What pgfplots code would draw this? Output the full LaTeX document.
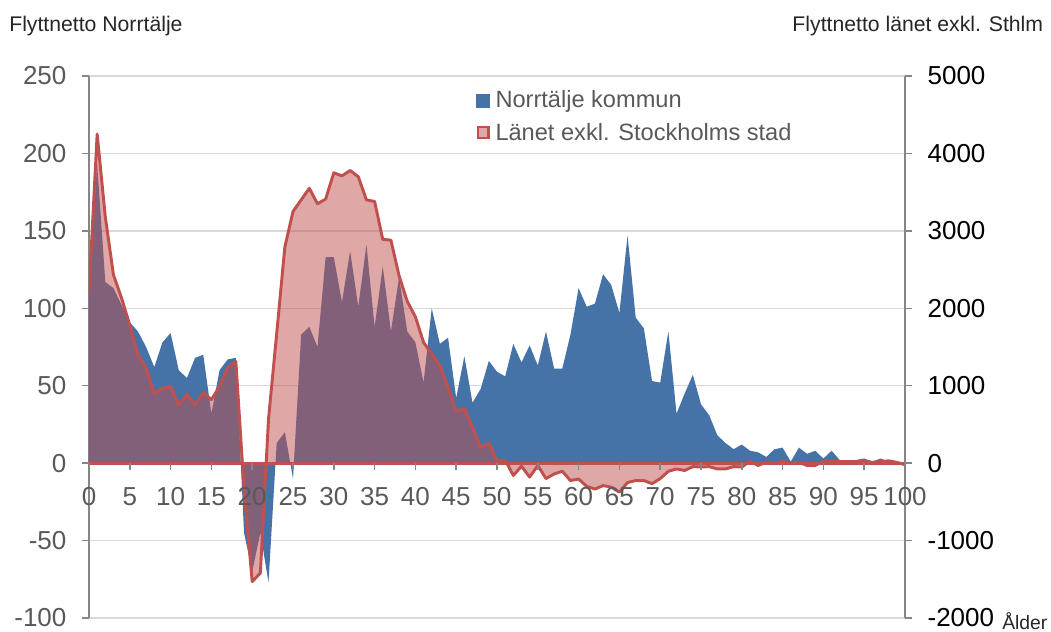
\documentclass[border=0pt]{standalone}
\usepackage{fontspec}
\setmainfont{Liberation Sans}
\usepackage{pgfplots}
\usepackage{pgfplotstable}
\pgfplotsset{compat=1.18}
\definecolor{nblue}{RGB}{69,114,167}
\definecolor{lred}{RGB}{192,80,77}
\definecolor{gridc}{RGB}{217,217,217}
\definecolor{axc}{RGB}{134,134,134}
\definecolor{txtc}{RGB}{89,89,89}
\definecolor{ttlc}{RGB}{38,38,38}

\pgfplotstableread{
age val
0 116
1 193
2 117
3 113
4 102
5 91
6 85
7 75
8 62
9 78
10 84
11 60
12 55
13 68
14 70
15 32
16 60
17 67
18 68
19 -45
20 -70
21 -45
22 -77
23 13
24 20
25 -10
26 83
27 88
28 75
29 133
30 133
31 104
32 137
33 101
34 141
35 88
36 127
37 85
38 120
39 85
40 78
41 52
42 100
43 77
44 81
45 42
46 69
47 39
48 48
49 66
50 59
51 56
52 77
53 65
54 76
55 63
56 85
57 61
58 61
59 83
60 113
61 101
62 103
63 122
64 115
65 97
66 147
67 94
68 87
69 53
70 52
71 85
72 32
73 45
74 57
75 38
76 31
77 18
78 13
79 9
80 12
81 8
82 7
83 4
84 9
85 10
86 1
87 10
88 6
89 8
90 3
91 8
92 2
93 2
94 2
95 3
96 1
97 3
98 1
99 1
100 0
}\norrtalje

\pgfplotstableread{
age val
0 2200
1 4250
2 3180
3 2430
4 2130
5 1780
6 1400
7 1230
8 900
9 970
10 990
11 750
12 890
13 750
14 910
15 820
16 990
17 1240
18 1310
19 -330
20 -1530
21 -1420
22 570
23 1670
24 2790
25 3250
26 3400
27 3550
28 3350
29 3410
30 3750
31 3710
32 3780
33 3700
34 3400
35 3380
36 2890
37 2880
38 2420
39 2090
40 1890
41 1560
42 1410
43 1260
44 980
45 670
46 710
47 460
48 200
49 260
50 30
51 40
52 -160
53 -40
54 -180
55 -30
56 -200
57 -140
58 -105
59 -225
60 -205
61 -300
62 -335
63 -290
64 -310
65 -375
66 -250
67 -225
68 -225
69 -265
70 -200
71 -105
72 -75
73 -95
74 -45
75 -50
76 -45
77 -75
78 -75
79 -45
80 -50
81 25
82 -30
83 15
84 0
85 25
86 0
87 10
88 -30
89 -30
90 25
91 25
92 20
93 20
94 20
95 30
96 10
97 20
98 30
99 10
100 -20
}\lanet

\begin{document}
\begin{tikzpicture}
\useasboundingbox (0,0) rectangle (788.25pt,474pt);
\begin{axis}[
  at={(66.75pt,10.5pt)}, anchor=south west,
  width=612pt, height=406.5pt, scale only axis,
  xmin=0, xmax=100, ymin=-100, ymax=250,
  axis y line*=left, axis x line*=middle,
  hide obscured x ticks=false, hide obscured y ticks=false,
  axis line style={-, draw=axc, line width=1.1pt},
  xtick={0,5,...,100}, xticklabels={},
  ytick={-100,-50,...,250},
  tick align=outside, major tick length=5.25pt,
  tick style={draw=axc, line width=1.1pt},
  ymajorgrids, grid style={draw=gridc, line width=1.1pt},
  /pgf/number format/assume math mode=true,
  /pgf/number format/1000 sep={},
  yticklabel style={font=\fontsize{19.5}{20}\selectfont, text=txtc, inner sep=0pt, xshift=-11.5pt},
]
\addplot[fill=nblue, draw=none, forget plot] table[x=age, y=val] {\norrtalje} \closedcycle;
\end{axis}
\begin{axis}[
  at={(66.75pt,10.5pt)}, anchor=south west,
  width=612pt, height=406.5pt, scale only axis,
  xmin=0, xmax=100, ymin=-2000, ymax=5000,
  axis y line*=right, axis x line*=middle,
  axis on top,
  hide obscured x ticks=false, hide obscured y ticks=false,
  axis line style={-, draw=axc, line width=1.1pt},
  x axis line style={draw=none},
  xtick={0,5,...,100},
  ytick={-2000,-1000,...,5000},
  tick align=outside, major tick length=5.25pt,
  tick style={draw=axc, line width=1.1pt},
  /pgf/number format/assume math mode=true,
  /pgf/number format/1000 sep={},
  yticklabel style={font=\fontsize{19.5}{20}\selectfont, text=black, inner sep=0pt, xshift=11.5pt},
  xticklabel style={font=\fontsize{19.5}{20}\selectfont, text=txtc, inner sep=0pt, anchor=north, yshift=-12.5pt, text height=14pt, text depth=6pt},
  legend style={at={(0.4743,0.978)}, anchor=north west, draw=none, fill=none,
    font=\fontsize{17.7}{20}\selectfont, text=txtc, inner sep=0pt, row sep=6pt,
    nodes={inner sep=2pt}},
  legend cell align=left,
]
\addlegendimage{legend image code/.code={\fill[nblue] (0pt,-4.9pt) rectangle (9.75pt,4.9pt); \path (12pt,0pt);}}
\addlegendentry{Norrtälje kommun}
\addlegendimage{legend image code/.code={\draw[fill=lred!50, draw=lred, line width=1.6pt] (0.8pt,-4.1pt) rectangle (8.95pt,4.1pt); \path (12pt,0pt);}}
\addlegendentry{Länet exkl. Stockholms stad}
\addplot[fill=lred, fill opacity=0.5, draw=none, forget plot] table[x=age, y=val] {\lanet} \closedcycle;
\addplot[lred, line width=2.2pt, forget plot] coordinates {(0,0) (100,0)};
\addplot[lred, line width=2.2pt, line join=round, forget plot] table[x=age, y=val] {\lanet};
\end{axis}
\node[anchor=base west, font=\fontsize{15.9}{18}\selectfont, text=ttlc, inner sep=0pt] at (6.8pt,450.2pt) {Flyttnetto Norrtälje};
\node[anchor=base east, font=\fontsize{15.9}{18}\selectfont, text=ttlc, inner sep=0pt] at (782.5pt,450.2pt) {Flyttnetto länet exkl. Sthlm};
\node[anchor=base west, font=\fontsize{14.5}{16}\selectfont, text=ttlc, inner sep=0pt] at (751.5pt,2pt) {Ålder};
\end{tikzpicture}
\end{document}
